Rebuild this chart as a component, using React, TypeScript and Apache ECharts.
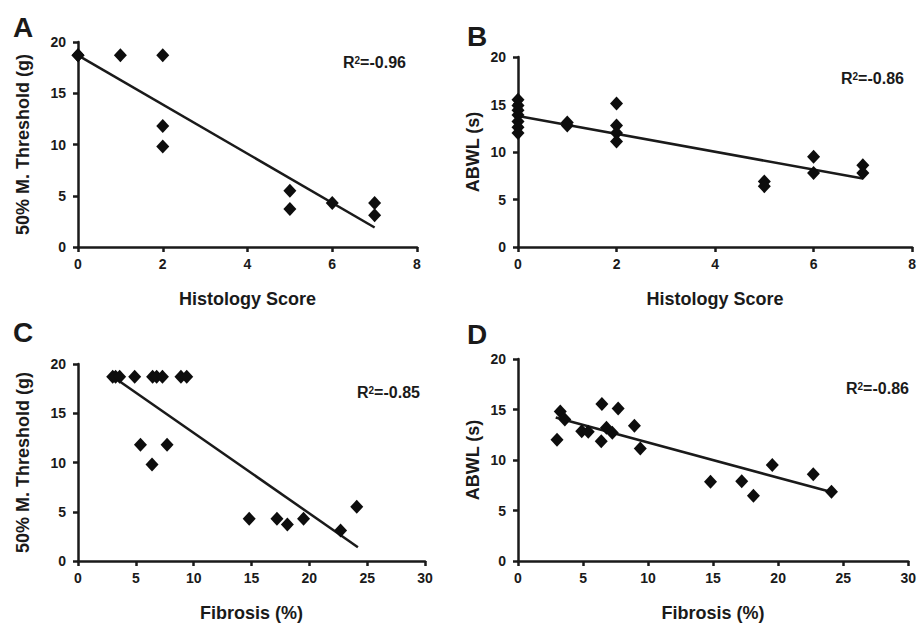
import React, { useEffect, useRef } from "react";
import * as echarts from "echarts";

// Panel A: Histology score vs 50% M. Threshold (g)
const aX = [0, 0, 1, 2, 2, 2, 5, 5, 6, 7, 7];
const aY = [18.7, 18.7, 18.7, 18.7, 11.8, 9.8, 5.5, 3.7, 4.3, 4.3, 3.1];
const aTrend = [[0, 18.7], [7, 1.9]];

// Panel B: Histology score vs ABWL (s)
const bX = [0, 0, 0, 0, 0, 0, 0, 1, 1, 2, 2, 2, 2, 5, 5, 6, 6, 7, 7];
const bY = [15.5, 14.9, 14.4, 13.9, 13.2, 12.6, 12.0, 13.1, 12.8, 15.1, 12.8, 12.0, 11.1, 6.9, 6.4, 9.5, 7.8, 8.6, 7.8];
const bTrend = [[0, 13.8], [7, 7.2]];

// Panel C: Fibrosis (%) vs 50% M. Threshold (g)
const cX = [3.0, 3.25, 3.6, 4.9, 6.45, 6.8, 7.3, 8.9, 9.4, 5.4, 7.7, 6.4, 14.8, 17.2, 18.1, 19.5, 22.7, 24.1];
const cY = [18.7, 18.7, 18.7, 18.7, 18.7, 18.7, 18.7, 18.7, 18.7, 11.8, 11.8, 9.8, 4.3, 4.3, 3.7, 4.3, 3.1, 5.5];
const cTrend = [[3.4, 18.4], [24.2, 1.4]];

// Panel D: Fibrosis (%) vs ABWL (s)
const dX = [3.0, 3.25, 3.6, 4.9, 5.4, 6.45, 6.4, 6.8, 7.25, 7.7, 8.95, 9.4, 14.8, 17.2, 18.1, 19.55, 22.7, 24.1];
const dY = [12.0, 14.8, 14.0, 12.85, 12.8, 15.55, 11.85, 13.2, 12.7, 15.1, 13.4, 11.15, 7.85, 7.9, 6.45, 9.5, 8.6, 6.85];
const dTrend = [[2.9, 14.2], [24.3, 6.75]];

const panelLetters = ["A", "B", "C", "D"];
const rValues = ["-0.96", "-0.86", "-0.85", "-0.86"];
const xTitles = ["Histology Score", "Histology Score", "Fibrosis (%)", "Fibrosis (%)"];
const yTitles = ["50% M. Threshold (g)", "ABWL (s)", "50% M. Threshold (g)", "ABWL (s)"];
const xMax = [8, 8, 30, 30];
const xInterval = [2, 2, 5, 5];
const yMax = 20;
const yInterval = 5;

const FONT = "'Liberation Sans', Arial, Helvetica, sans-serif";
const INK = "#1a1a1a";

const grids = [
  { left: 78, top: 42, width: 339, height: 205 },
  { left: 518, top: 57, width: 396, height: 190 },
  { left: 78, top: 364, width: 347, height: 199 },
  { left: 518, top: 359, width: 392, height: 204 },
];
const yNameGap = [46, 36, 46, 36];
const letterPos = [
  [13, 13],
  [467, 22],
  [13, 318],
  [467, 320],
];
const rPos = [
  [343, 62],
  [841, 78],
  [357, 392],
  [846, 388],
];

const pairs = (xs: number[], ys: number[]) => xs.map((x, i) => [x, ys[i]]);

export default function App() {
  const ref = useRef<HTMLDivElement>(null);
  useEffect(() => {
    document.body.style.margin = "0";
    const chart = echarts.init(ref.current!, null, { renderer: "svg" });
    const axisCommon = {
      type: "value" as const,
      axisLine: { show: true, onZero: false, lineStyle: { color: INK, width: 2.5 } },
      axisTick: { show: true, inside: false, length: 5, lineStyle: { color: INK, width: 2.5 } },
      splitLine: { show: false },
      axisLabel: { color: INK, fontSize: 14, fontWeight: "bold" as const, fontFamily: FONT },
      nameLocation: "middle" as const,
      nameTextStyle: { color: INK, fontSize: 18, fontWeight: "bold" as const, fontFamily: FONT },
    };
    const data = [
      [aX, aY, aTrend],
      [bX, bY, bTrend],
      [cX, cY, cTrend],
      [dX, dY, dTrend],
    ] as const;
    const series: any[] = [];
    data.forEach((d, i) => {
      series.push({
        type: "line",
        xAxisIndex: i,
        yAxisIndex: i,
        data: d[2],
        showSymbol: false,
        symbol: "none",
        lineStyle: { color: INK, width: 2.5 },
        z: 2,
      });
      series.push({
        type: "scatter",
        xAxisIndex: i,
        yAxisIndex: i,
        data: pairs(d[0] as number[], d[1] as number[]),
        symbol: "diamond",
        symbolSize: [13, 14],
        itemStyle: { color: "#0d0d0d", opacity: 1 },
        z: 3,
      });
    });
    const graphics: any[] = [];
    panelLetters.forEach((l, i) => {
      graphics.push({
        type: "text",
        left: letterPos[i][0],
        top: letterPos[i][1],
        style: { text: l, fill: INK, font: `bold 28px ${FONT}` },
      });
      graphics.push({
        type: "text",
        x: rPos[i][0],
        y: rPos[i][1],
        style: {
          text: `{b|R}{s|2}{b|=${rValues[i]}}`,
          verticalAlign: "middle",
          rich: {
            b: { fontSize: 16, lineHeight: 17, fontWeight: "bold", fontFamily: FONT, fill: INK, color: INK },
            s: { fontSize: 10, lineHeight: 10, fontWeight: "bold", fontFamily: FONT, fill: INK, color: INK, verticalAlign: "top", padding: [2, 0, 0, 0] },
          },
        },
      });
    });
    chart.setOption({
      animation: false,
      backgroundColor: "#fff",
      grid: grids.map((g) => ({ ...g, containLabel: false })),
      xAxis: grids.map((_, i) => ({
        ...axisCommon,
        gridIndex: i,
        min: 0,
        max: xMax[i],
        interval: xInterval[i],
        name: xTitles[i],
        nameGap: 43,
        axisLabel: { ...axisCommon.axisLabel, margin: 10 },
      })),
      yAxis: grids.map((_, i) => ({
        ...axisCommon,
        gridIndex: i,
        min: 0,
        max: yMax,
        interval: yInterval,
        name: yTitles[i],
        nameGap: yNameGap[i],
        axisLabel: { ...axisCommon.axisLabel, margin: 12 },
      })),
      series,
      graphic: graphics,
    });
    return () => chart.dispose();
  }, []);
  return <div ref={ref} style={{ width: 919, height: 623, background: "#fff" }} />;
}
